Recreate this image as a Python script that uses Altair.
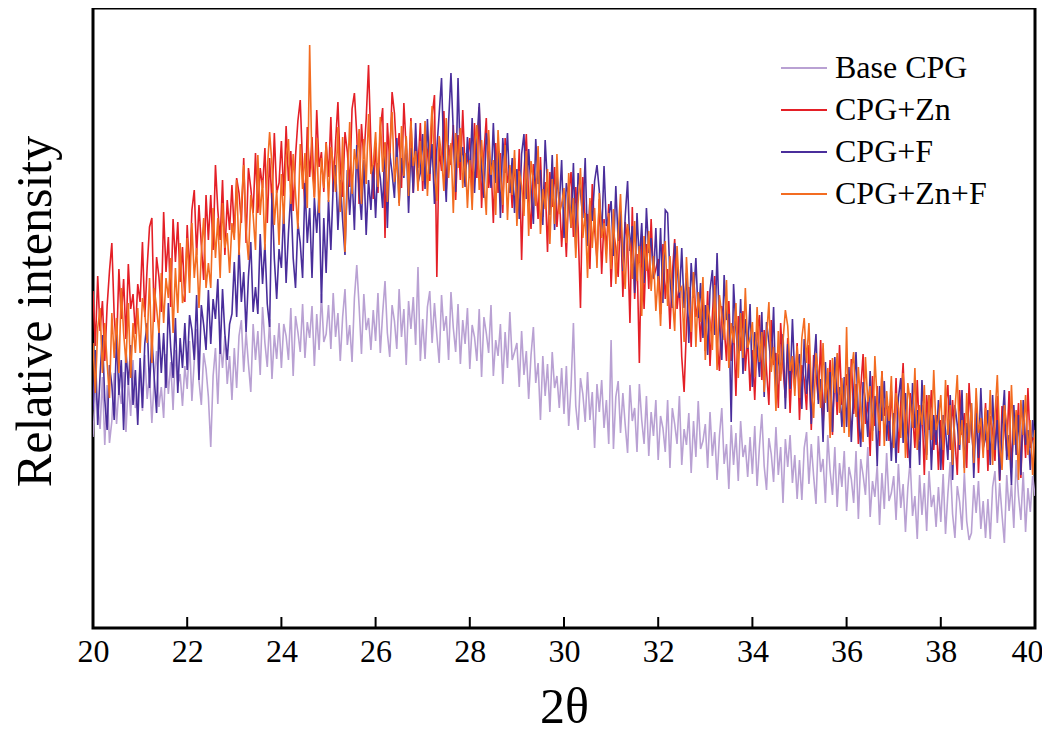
import altair as alt
import numpy as np
import pandas as pd

# ---- data (intensity in arbitrary units) ----
x_start = 20.0
x_step = 0.05
series_names = ["Base CPG", "CPG+Zn", "CPG+F", "CPG+Zn+F"]
series_colors = ["#b9a1d3", "#e41f26", "#4a2e9b", "#f36c21"]
x_ticks = [20, 22, 24, 26, 28, 30, 32, 34, 36, 38, 40]

base_cpg = [
    191, 235, 223, 199, 251, 183, 243, 185, 207, 255, 204, 240, 224, 256, 196, 248, 212, 268, 220, 228,
    261, 217, 273, 229, 253, 205, 249, 277, 221, 241, 210, 274, 234, 266, 218, 278, 242, 254, 222, 262,
    239, 287, 227, 267, 299, 247, 223, 275, 259, 231, 181, 252, 280, 224, 288, 260, 292, 244, 272, 228,
    280, 240, 292, 308, 256, 296, 264, 236, 304, 268, 297, 253, 321, 285, 261, 309, 249, 293, 269, 305,
    260, 304, 292, 268, 320, 252, 312, 296, 276, 324, 270, 306, 290, 322, 262, 314, 278, 334, 286, 294,
    323, 279, 335, 291, 315, 267, 311, 339, 283, 303, 266, 330, 363, 322, 274, 334, 298, 310, 278, 318,
    287, 335, 275, 315, 347, 295, 271, 323, 307, 279, 339, 291, 319, 263, 327, 299, 331, 283, 361, 267,
    309, 269, 321, 337, 285, 325, 293, 265, 333, 297, 312, 268, 336, 300, 276, 324, 264, 308, 284, 320,
    259, 303, 291, 267, 319, 251, 311, 295, 275, 323, 252, 288, 272, 304, 244, 296, 260, 316, 268, 276,
    285, 241, 297, 253, 277, 229, 273, 301, 245, 265, 208, 272, 232, 264, 216, 276, 240, 252, 220, 260,
    214, 262, 202, 242, 305, 222, 198, 250, 234, 206, 256, 208, 236, 180, 244, 216, 248, 200, 228, 184,
    288, 179, 231, 247, 195, 235, 203, 175, 243, 207, 220, 176, 244, 208, 184, 232, 172, 216, 192, 228,
    168, 212, 200, 176, 228, 160, 220, 204, 184, 232, 163, 199, 183, 215, 155, 207, 171, 227, 179, 187,
    204, 160, 216, 172, 196, 148, 192, 220, 164, 184, 139, 203, 163, 195, 147, 207, 171, 183, 151, 191,
    154, 202, 142, 182, 214, 162, 138, 190, 174, 146, 201, 153, 181, 125, 189, 161, 193, 145, 173, 129,
    168, 128, 180, 196, 144, 184, 152, 124, 192, 156, 169, 125, 193, 157, 133, 181, 121, 165, 141, 177,
    117, 161, 149, 125, 177, 109, 169, 153, 133, 181, 111, 147, 131, 163, 103, 155, 119, 175, 127, 135,
    152, 108, 164, 120, 144, 96, 140, 168, 112, 132, 89, 153, 113, 145, 97, 157, 121, 133, 101, 141,
    106, 154, 94, 134, 166, 114, 90, 142, 126, 98, 155, 107, 88, 95, 143, 115, 147, 99, 127, 90,
    129, 89, 141, 157, 105, 145, 113, 85, 153, 117, 144, 100, 168, 132, 108, 156, 96, 140, 116, 152,
    132,
]

cpg_zn = [
    337, 282, 352, 297, 327, 267, 322, 357, 385, 312, 279, 359, 309, 349, 289, 364, 319, 334, 294, 344,
    326, 386, 311, 361, 401, 410, 306, 371, 351, 316, 416, 356, 391, 321, 409, 366, 406, 346, 381, 326,
    403, 353, 418, 438, 373, 423, 383, 348, 433, 388, 433, 378, 463, 418, 388, 448, 373, 428, 398, 443,
    395, 450, 435, 405, 470, 385, 460, 440, 415, 475, 415, 460, 440, 480, 405, 470, 425, 495, 435, 445,
    487, 432, 502, 447, 477, 417, 472, 507, 528, 462, 421, 501, 451, 491, 431, 518, 461, 476, 436, 486,
    451, 511, 436, 486, 526, 461, 431, 496, 476, 441, 519, 535, 494, 424, 504, 469, 509, 563, 484, 429,
    485, 435, 500, 520, 390, 505, 465, 536, 515, 470, 495, 440, 525, 480, 450, 510, 435, 490, 460, 505,
    437, 492, 477, 447, 512, 533, 351, 482, 457, 517, 438, 483, 463, 503, 428, 493, 448, 518, 458, 468,
    490, 435, 505, 450, 521, 420, 475, 510, 440, 465, 405, 485, 435, 475, 415, 490, 445, 460, 420, 470,
    419, 479, 368, 454, 494, 429, 399, 464, 444, 409, 471, 411, 446, 376, 456, 421, 461, 401, 436, 381,
    421, 371, 436, 456, 391, 441, 401, 320, 451, 406, 414, 359, 444, 399, 369, 429, 354, 409, 379, 424,
    341, 396, 381, 351, 416, 331, 406, 386, 305, 421, 329, 374, 265, 394, 319, 384, 339, 409, 349, 359,
    369, 314, 384, 329, 359, 299, 354, 389, 319, 344, 271, 236, 301, 341, 281, 356, 311, 326, 286, 336,
    277, 337, 262, 312, 352, 287, 257, 322, 302, 267, 327, 267, 302, 232, 312, 277, 317, 257, 292, 237,
    278, 228, 293, 313, 248, 298, 258, 223, 308, 263, 275, 220, 305, 260, 230, 290, 215, 270, 240, 285,
    208, 263, 248, 218, 283, 198, 273, 253, 228, 288, 203, 248, 228, 268, 193, 258, 213, 283, 223, 233,
    254, 199, 269, 214, 244, 184, 239, 274, 204, 229, 172, 252, 202, 242, 182, 257, 212, 227, 187, 237,
    190, 250, 175, 225, 265, 200, 170, 235, 215, 180, 248, 188, 223, 153, 233, 198, 238, 178, 213, 158,
    208, 158, 223, 243, 178, 228, 188, 153, 238, 193, 215, 160, 245, 200, 170, 230, 155, 210, 180, 225,
    157, 212, 197, 167, 232, 147, 222, 202, 177, 237, 160, 205, 185, 225, 150, 215, 170, 240, 180, 190,
    188,
]

cpg_f = [
    218, 278, 203, 253, 293, 228, 198, 263, 243, 208, 293, 233, 268, 198, 278, 243, 283, 223, 258, 203,
    270, 220, 285, 305, 240, 290, 250, 215, 300, 255, 295, 240, 325, 280, 250, 310, 235, 290, 260, 305,
    258, 313, 298, 268, 333, 248, 323, 303, 278, 338, 284, 329, 309, 349, 274, 339, 294, 268, 304, 314,
    366, 311, 381, 326, 356, 296, 351, 386, 316, 341, 314, 394, 344, 384, 324, 301, 435, 369, 329, 379,
    360, 420, 345, 395, 435, 370, 340, 405, 385, 350, 445, 385, 420, 350, 430, 395, 435, 325, 410, 355,
    428, 378, 443, 463, 398, 448, 408, 373, 458, 413, 453, 398, 483, 438, 408, 468, 393, 448, 418, 463,
    410, 465, 450, 420, 485, 400, 475, 455, 430, 490, 425, 470, 450, 490, 415, 480, 435, 505, 445, 455,
    494, 439, 509, 454, 484, 424, 479, 514, 550, 469, 426, 506, 555, 496, 436, 550, 466, 481, 441, 491,
    450, 510, 435, 485, 525, 460, 430, 495, 475, 440, 505, 445, 480, 410, 490, 455, 495, 435, 470, 415,
    459, 409, 474, 494, 429, 479, 439, 404, 489, 444, 458, 403, 488, 443, 413, 473, 398, 453, 423, 468,
    390, 445, 430, 400, 465, 380, 455, 435, 410, 470, 382, 427, 407, 447, 463, 437, 392, 462, 402, 412,
    427, 372, 442, 387, 417, 357, 412, 447, 377, 402, 335, 415, 365, 405, 345, 420, 375, 390, 350, 400,
    340, 400, 325, 418, 415, 350, 320, 385, 365, 330, 380, 320, 355, 285, 365, 330, 370, 310, 345, 290,
    323, 273, 338, 358, 293, 375, 303, 268, 353, 308, 314, 206, 344, 299, 269, 329, 254, 309, 279, 324,
    241, 296, 281, 251, 316, 231, 306, 286, 261, 321, 229, 274, 254, 294, 219, 284, 239, 309, 249, 259,
    274, 219, 289, 234, 264, 204, 259, 294, 224, 249, 186, 266, 216, 256, 196, 271, 226, 241, 201, 251,
    201, 261, 186, 236, 276, 211, 181, 246, 226, 191, 257, 197, 232, 162, 242, 207, 247, 187, 222, 167,
    215, 165, 230, 250, 185, 235, 195, 160, 245, 200, 218, 163, 248, 203, 173, 233, 158, 213, 183, 228,
    158, 213, 198, 168, 233, 148, 223, 203, 178, 238, 160, 205, 185, 225, 150, 215, 170, 240, 180, 190,
    218, 163, 233, 178, 208, 148, 203, 238, 168, 193, 143, 223, 173, 213, 153, 228, 183, 198, 158, 208,
    188,
]

cpg_zn_f = [
    285, 235, 300, 320, 255, 305, 265, 230, 315, 270, 310, 255, 340, 295, 265, 325, 250, 305, 275, 320,
    275, 330, 315, 285, 350, 265, 340, 320, 295, 355, 305, 350, 330, 370, 295, 360, 315, 385, 325, 335,
    390, 335, 405, 350, 380, 320, 375, 410, 340, 365, 340, 420, 370, 410, 350, 425, 380, 395, 355, 405,
    388, 448, 373, 423, 463, 398, 368, 433, 413, 378, 473, 413, 448, 378, 458, 496, 463, 403, 438, 383,
    454, 404, 469, 489, 424, 474, 434, 399, 484, 439, 475, 420, 583, 460, 430, 490, 415, 470, 440, 485,
    426, 481, 466, 436, 501, 416, 491, 376, 446, 506, 434, 479, 459, 499, 424, 489, 444, 514, 454, 464,
    496, 441, 511, 456, 486, 426, 481, 516, 446, 471, 422, 502, 452, 492, 432, 507, 462, 477, 437, 487,
    447, 507, 432, 482, 522, 457, 427, 492, 472, 437, 510, 450, 485, 415, 495, 460, 500, 440, 475, 420,
    468, 418, 483, 503, 438, 488, 448, 413, 498, 453, 468, 413, 498, 453, 423, 483, 408, 463, 433, 478,
    402, 457, 442, 412, 477, 392, 467, 447, 422, 482, 394, 439, 419, 459, 384, 449, 404, 474, 414, 424,
    440, 385, 455, 400, 430, 370, 425, 460, 390, 415, 350, 430, 380, 420, 360, 435, 390, 405, 365, 415,
    359, 419, 344, 394, 434, 369, 339, 404, 384, 349, 407, 347, 382, 312, 392, 357, 397, 337, 372, 317,
    352, 302, 367, 387, 322, 372, 332, 297, 382, 337, 341, 286, 371, 326, 296, 356, 281, 336, 306, 351,
    268, 323, 308, 278, 343, 258, 333, 313, 288, 348, 260, 305, 285, 325, 250, 315, 270, 340, 280, 290,
    306, 251, 321, 266, 296, 236, 291, 326, 256, 281, 217, 297, 247, 287, 318, 302, 257, 272, 232, 282,
    230, 290, 310, 265, 305, 240, 210, 275, 255, 220, 285, 225, 260, 190, 270, 235, 275, 215, 250, 195,
    301, 191, 256, 276, 211, 261, 221, 186, 271, 226, 242, 187, 272, 227, 197, 257, 182, 237, 207, 252,
    180, 235, 220, 190, 255, 170, 245, 225, 200, 260, 178, 223, 203, 243, 168, 233, 188, 258, 198, 208,
    233, 178, 248, 193, 223, 163, 218, 253, 183, 208, 155, 235, 185, 225, 165, 240, 195, 210, 170, 220,
    178, 238, 163, 213, 253, 188, 158, 223, 203, 168, 243, 183, 218, 148, 228, 193, 233, 173, 208, 153,
    198,
]

series_values = [base_cpg, cpg_zn, cpg_f, cpg_zn_f]

rows = []
for name, vals in zip(series_names, series_values):
    for i, v in enumerate(vals):
        rows.append({"x": round(x_start + i * x_step, 2), "intensity": v, "series": name})
df = pd.DataFrame(rows)

FONT = "Liberation Serif"

x_scale = alt.Scale(domain=[20, 40], nice=False, zero=False)
X = alt.X(
    "x:Q",
    scale=x_scale,
    axis=alt.Axis(
        values=x_ticks, title="2θ", grid=False, domain=False, ticks=False, tickSize=0,
        labelPadding=8, labelFont=FONT, labelFontSize=32, labelColor="black",
        labelFlush=False, labelOverlap=False,
        labelOffset={"condition": {"test": "datum.value >= 40", "value": -8}, "value": 0},
        titleFont=FONT, titleFontSize=50, titleFontWeight="normal", titleColor="black",
        titlePadding=15,
    ),
)
Y = alt.Y(
    "intensity:Q",
    scale=alt.Scale(domain=[0, 620], nice=False, zero=False),
    axis=alt.Axis(
        title="Relative intensity", labels=False, ticks=False, domain=False, grid=False,
        titleFont=FONT, titleFontSize=50, titleFontWeight="normal", titleColor="black",
        titlePadding=33, titleY=303,
    ),
)
C = alt.Color(
    "series:N",
    scale=alt.Scale(domain=series_names, range=series_colors),
    legend=alt.Legend(
        title=None, orient="none", legendX=687, legendY=40, padding=0,
        symbolType="stroke", symbolSize=2116, symbolStrokeWidth=2,
        labelFont=FONT, labelFontSize=32, labelColor="black", labelOffset=7,
        labelLimit=0, clipHeight=40, rowPadding=2,
    ),
)

layers = []
for name in series_names:
    layers.append(
        alt.Chart(df)
        .transform_filter(alt.datum.series == name)
        .mark_line(strokeWidth=1.6, clip=True)
        .encode(x=X, y=Y, color=C)
    )

ticks = (
    alt.Chart(pd.DataFrame({"x": x_ticks}))
    .mark_rule(color="black", strokeWidth=2)
    .encode(x=X, y=alt.value(620), y2=alt.value(609))
)

chart = (
    alt.layer(*layers, ticks)
    .properties(
        width=942, height=620,
        autosize=alt.AutoSizeParams(type="none"),
        padding={"left": 85, "top": 0, "right": 7, "bottom": 100},
        background="white",
    )
    .configure_view(stroke="black", strokeWidth=3)
)

chart.save("out.html", embed_options={"renderer": "svg", "actions": False})
